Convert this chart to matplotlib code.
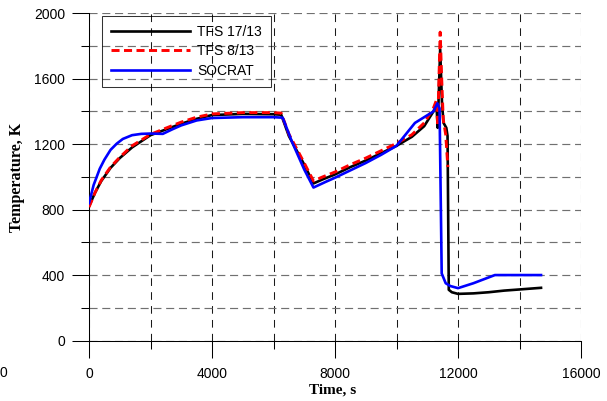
"""
Temperature vs time: TFS 17/13, TFS 8/13 and SOCRAT
"""
import matplotlib
matplotlib.use("Agg")
import matplotlib.pyplot as plt
from matplotlib.ticker import MultipleLocator

plt.rcParams['font.family'] = ['Liberation Sans', 'DejaVu Sans']
plt.rcParams['lines.scale_dashes'] = False

# TFS 17/13 (black)
t_black = [0, 200, 400, 700, 1000, 1400, 2000, 2500, 3000, 3500, 4000, 5000, 6000, 6250,
           6500, 7000, 7300, 7600, 8000, 8500, 9000, 9500, 10000, 10500, 10900, 11200,
           11300, 11340, 11420, 11480, 11530, 11620, 11660, 11700, 11800, 12000, 12500,
           13000, 13500, 14000, 14700]
T_black = [820, 905, 975, 1055, 1115, 1180, 1255, 1290, 1325, 1355, 1378, 1385, 1383, 1380,
           1250, 1075, 960, 985, 1015, 1060, 1100, 1145, 1190, 1245, 1310, 1400,
           1440, 1300, 1780, 1450, 1330, 1300, 1250, 310, 295, 285, 288,
           295, 305, 312, 322]

# TFS 8/13 (red dashed)
t_red = [0, 200, 400, 700, 1000, 1400, 2000, 2500, 3000, 3500, 4000, 5000, 6000, 6250,
         6500, 7000, 7300, 7600, 8000, 8500, 9000, 9500, 10000, 10500, 10900, 11200,
         11300, 11340, 11420, 11470, 11520, 11600, 11670]
T_red = [815, 905, 980, 1060, 1120, 1190, 1260, 1298, 1335, 1365, 1385, 1393, 1393, 1390,
         1262, 1085, 975, 1000, 1030, 1075, 1115, 1160, 1205, 1258, 1330, 1420,
         1470, 1310, 1885, 1600, 1350, 1260, 1060]

# SOCRAT (blue)
t_blue = [0, 150, 350, 500, 700, 900, 1100, 1400, 1700, 2000, 2400, 2700, 3000, 3500, 4000,
          5000, 6000, 6300, 6600, 7000, 7300, 7700, 8000, 8500, 9000, 9500, 10000, 10600,
          11200, 11330, 11400, 11470, 11600, 11750, 12000, 12500, 13200, 14000, 14700]
T_blue = [840, 950, 1050, 1105, 1165, 1203, 1232, 1255, 1263, 1265, 1263, 1290, 1315, 1345,
          1360, 1365, 1365, 1362, 1215, 1045, 935, 970, 995, 1040, 1085, 1135, 1190, 1330,
          1400, 1450, 1420, 410, 350, 333, 320, 350, 400, 400, 400]

W, H = 607, 401
fig = plt.figure(figsize=(W / 100, H / 100), dpi=100)
ax = fig.add_axes([89 / W, 1 - 340.5 / H, (581 - 89) / W, (340.5 - 13.3) / H])

ax.plot(t_black, T_black, color='black', lw=1.9, label='TFS 17/13', zorder=3)
ax.plot(t_red, T_red, color='#ff0000', lw=2.1, ls=(0, (5.8, 3.2)), label='TFS 8/13', zorder=4)
ax.plot(t_blue, T_blue, color='#0000ff', lw=1.9, label='SOCRAT', zorder=5)

ax.set_xlim(0, 16000)
ax.set_ylim(0, 2000)
ax.xaxis.set_major_locator(MultipleLocator(4000))
ax.xaxis.set_minor_locator(MultipleLocator(2000))
ax.yaxis.set_major_locator(MultipleLocator(400))
ax.yaxis.set_minor_locator(MultipleLocator(200))

for s in ['top', 'right']:
    ax.spines[s].set_visible(False)
for s in ['left', 'bottom']:
    ax.spines[s].set_linewidth(0.75)
    ax.spines[s].set_color('black')
    ax.spines[s].set_zorder(2)

ax.tick_params(which='major', direction='out', length=12.2, width=0.75, labelsize=10)
ax.tick_params(which='minor', direction='out', length=5.8, width=0.75)
ax.tick_params(axis='y', which='major', pad=5)
ax.tick_params(axis='x', which='major', pad=7)

ax.xaxis.grid(True, which='both', color='#1a1a1a', lw=0.75, ls=(0, (5.5, 4.5)))
ax.yaxis.grid(True, which='both', color='#707070', lw=0.85, ls=(0, (5.8, 3.4)))
ax.set_axisbelow(True)

# cut-off tick label at the left edge of the picture
fig.text(0 / W, 1 - 373 / H, '0', ha='left', va='center', fontsize=10)

fig.text(17 / W, 1 - 177 / H, 'Temperature, K', rotation=90, ha='center', va='center',
         family='Liberation Serif', fontweight='bold', fontsize=11.5)
fig.text(333 / W, 1 - 390 / H, 'Time, s', ha='center', va='center',
         family='Liberation Serif', fontweight='bold', fontsize=11)

leg = ax.legend(loc='upper left', bbox_to_anchor=(102 / W, 1 - 16 / H),
                bbox_transform=fig.transFigure, borderaxespad=0, fancybox=False,
                fontsize=10, handlelength=5.7, handletextpad=0.5, borderpad=0.65,
                labelspacing=0.38)
leg.get_frame().set_edgecolor('black')
leg.get_frame().set_linewidth(0.75)
leg.get_frame().set_facecolor('none')

fig.savefig('out.png', dpi=100)
